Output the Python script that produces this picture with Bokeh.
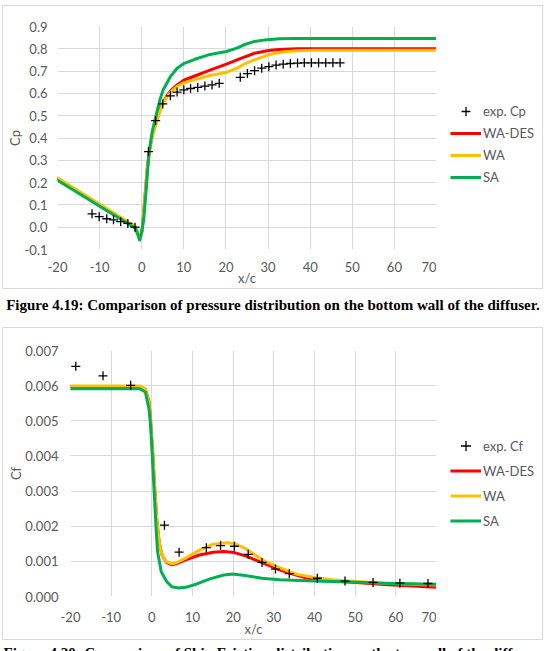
from bokeh.plotting import figure
from bokeh.models import (Range1d, FixedTicker, NumeralTickFormatter, Legend,
                          LegendItem, Div)
from bokeh.layouts import column, row
from bokeh.embed import file_html
from bokeh.resources import INLINE

# ---------------- pressure coefficient, bottom wall ----------------
cp_exp_x = [-11.8, -10.1, -8.3, -6.7, -5.0, -3.3, -1.6,
            1.6, 3.3, 5.0, 6.8, 8.4, 10.0, 11.6, 13.3, 15.0, 16.7, 18.4,
            23.4, 25.1, 26.8, 28.5, 30.2, 31.9, 33.6, 35.3, 37.0, 38.6,
            40.3, 42.0, 43.7, 45.4, 47.1]
cp_exp = [0.060, 0.047, 0.038, 0.033, 0.025, 0.017, 0.000,
          0.339, 0.478, 0.553, 0.589, 0.606, 0.616, 0.622, 0.627, 0.633, 0.638, 0.645,
          0.672, 0.689, 0.702, 0.713, 0.720, 0.727, 0.731, 0.734, 0.736, 0.737,
          0.737, 0.737, 0.737, 0.737, 0.737]

cp_wades_x = [-20, -1.5, -1.0, -0.4, 0.1, 0.7, 1.3, 1.9, 2.6, 3.5, 4.3, 5.1, 6.0,
              6.8, 8.4, 10.1, 12.6, 15.9, 20.1, 23.4, 26.8, 30.1, 32.6, 36.7, 45, 70]
cp_wades = [0.217, 0.000, -0.025, -0.052, -0.015, 0.12, 0.26, 0.35, 0.42, 0.474,
            0.525, 0.560, 0.590, 0.610, 0.638, 0.660, 0.678, 0.702, 0.731, 0.756,
            0.780, 0.792, 0.797, 0.800, 0.800, 0.800]

cp_wa_x = [-20, -1.5, -1.0, -0.4, 0.1, 0.7, 1.3, 1.9, 2.6, 3.5, 4.3, 5.1, 6.0,
           6.8, 8.4, 10.1, 12.6, 15.9, 20.1, 22.6, 24.3, 26.8, 30.1, 32.6, 36.7,
           40.9, 70]
cp_wa = [0.222, 0.003, -0.022, -0.050, -0.013, 0.12, 0.26, 0.35, 0.415, 0.470,
         0.520, 0.556, 0.585, 0.605, 0.632, 0.648, 0.662, 0.679, 0.694, 0.713,
         0.731, 0.750, 0.773, 0.783, 0.791, 0.794, 0.794]

cp_sa_x = [-20, -1.5, -1.0, -0.5, 0.0, 0.5, 1.1, 1.7, 2.5, 3.4, 4.3, 5.1, 6.8,
           8.4, 10.1, 12.6, 15.9, 20.1, 22.6, 24.3, 26.8, 29.3, 32.6, 36.7, 70]
cp_sa = [0.210, -0.005, -0.030, -0.058, -0.020, 0.040, 0.180, 0.330, 0.430,
         0.500, 0.570, 0.616, 0.675, 0.713, 0.735, 0.753, 0.773, 0.788, 0.803,
         0.818, 0.833, 0.840, 0.845, 0.846, 0.846]

cp_ticks = [-0.1, 0.0, 0.1, 0.2, 0.3, 0.4, 0.5, 0.6, 0.7, 0.8, 0.9]

# ---------------- skin friction coefficient, top wall ----------------
cf_exp_x = [-18.7, -12.0, -5.2, 3.1, 6.7, 13.4, 16.9, 20.3, 23.7, 27.1, 30.4,
            33.8, 40.7, 47.5, 54.4, 61.0, 67.9]
cf_exp = [0.00655, 0.00628, 0.00601, 0.00203, 0.00126, 0.00139, 0.00145,
          0.00143, 0.00120, 0.00097, 0.00078, 0.00065, 0.00052, 0.00044,
          0.00040, 0.00038, 0.00037]

cf_wades_x = [-20, -3.0, -1.6, -0.7, -0.3, 0.2, 0.7, 1.2, 1.8, 2.5, 3.5, 4.9,
              6.0, 8.3, 11.7, 15.1, 17.7, 20.3, 22.9, 25.4, 28.0, 31.4, 35.7,
              38.3, 40.0, 44.3, 48.6, 57.1, 70]
cf_wades = [0.00597, 0.00597, 0.00590, 0.00555, 0.00500, 0.00410, 0.00310,
            0.00220, 0.00155, 0.00118, 0.00098, 0.00090, 0.00093, 0.00104,
            0.00118, 0.00126, 0.00128, 0.00125, 0.00116, 0.00104, 0.00092,
            0.00076, 0.00060, 0.00052, 0.00049, 0.00044, 0.00041, 0.00034,
            0.00026]

cf_wa_x = [-20, -3.0, -1.6, -0.7, -0.3, 0.2, 0.7, 1.2, 1.8, 2.5, 3.5, 4.9, 6.1,
           8.3, 11.7, 15.1, 18.6, 20.3, 22.9, 25.4, 28.0, 31.4, 35.7, 40.0,
           44.3, 48.6, 57.1, 70]
cf_wa = [0.00599, 0.00599, 0.00590, 0.00550, 0.00500, 0.00410, 0.00310,
         0.00220, 0.00155, 0.00118, 0.00099, 0.00093, 0.00096, 0.00109,
         0.00132, 0.00149, 0.00153, 0.00151, 0.00137, 0.00118, 0.00099,
         0.00082, 0.00063, 0.00054, 0.00048, 0.00044, 0.00038, 0.00033]

cf_sa_x = [-20, -3.0, -1.6, -0.7, -0.3, 0.14, 0.57, 1.0, 1.4, 2.3, 3.6, 4.9,
           6.6, 8.3, 10.9, 14.3, 17.7, 19.9, 22.9, 27.1, 31.4, 40.0, 48.6,
           57.1, 70]
cf_sa = [0.00591, 0.00591, 0.00582, 0.00534, 0.00487, 0.00393, 0.00298,
         0.00203, 0.00128, 0.00071, 0.00043, 0.00028, 0.00024, 0.00026,
         0.00035, 0.00050, 0.00061, 0.00064, 0.00060, 0.00052, 0.00048,
         0.00044, 0.00041, 0.00038, 0.00035]

cf_ticks = [0.000, 0.001, 0.002, 0.003, 0.004, 0.005, 0.006, 0.007]

x_ticks = [-20, -10, 0, 10, 20, 30, 40, 50, 60, 70]

RED, YELLOW, GREEN = "#FF0000", "#FFC000", "#00B050"
GRID = "#D9D9D9"
TEXT = "#595959"
FONT = "Lato"
LINE_W = 3


def style_axis(ax):
    ax.axis_line_color = None
    ax.major_tick_line_color = None
    ax.minor_tick_line_color = None
    ax.major_tick_out = 0
    ax.major_tick_in = 0
    ax.minor_tick_out = 0
    ax.minor_tick_in = 0
    ax.major_label_text_font = FONT
    ax.major_label_text_font_size = "13px"
    ax.major_label_text_color = TEXT
    ax.axis_label_text_font = FONT
    ax.axis_label_text_font_size = "13px"
    ax.axis_label_text_font_style = "normal"
    ax.axis_label_text_color = TEXT


def chart(ex, ey, exp_label, series, yrange, yticks, yfmt, ylabel,
          left, top, bottom, legend_loc, row_h,
          x_std, x_lab_std, y_std, y_lab_std, height):
    # plot panel: the frame ends exactly at the right edge of this canvas
    p = figure(width=433, height=height, output_backend="svg",
               toolbar_location=None,
               x_range=Range1d(x_ticks[0], x_ticks[-1]),
               y_range=Range1d(*yrange),
               min_border_left=left, min_border_right=0,
               min_border_top=top, min_border_bottom=bottom)
    p.outline_line_color = None

    style_axis(p.xaxis[0])
    style_axis(p.yaxis[0])
    p.xaxis.ticker = FixedTicker(ticks=x_ticks)
    p.xaxis.formatter = NumeralTickFormatter(format="0")
    p.xaxis.axis_label = "x/c"
    p.xaxis.major_label_standoff = x_std
    p.xaxis.axis_label_standoff = x_lab_std
    p.yaxis.ticker = FixedTicker(ticks=yticks)
    p.yaxis.formatter = NumeralTickFormatter(format=yfmt)
    p.yaxis.axis_label = ylabel
    p.yaxis.major_label_standoff = y_std
    p.yaxis.axis_label_standoff = y_lab_std

    p.xgrid.ticker = FixedTicker(ticks=x_ticks)
    p.ygrid.ticker = FixedTicker(ticks=yticks)
    p.grid.grid_line_color = GRID
    p.grid.grid_line_width = 1

    for name, xs, ys, col in series:
        p.line(xs, ys, line_color=col, line_width=LINE_W,
               line_join="round", line_cap="round")
    p.scatter(ex, ey, marker="cross", size=9, line_color="black",
              line_width=1.3)

    # legend panel to the right of the plot; its key renderers carry the
    # same series but stay hidden, only their legend swatches are drawn
    lp = figure(width=106, height=height, output_backend="svg",
                toolbar_location=None, x_axis_type=None, y_axis_type=None,
                x_range=Range1d(0, 1), y_range=Range1d(0, 1),
                min_border_left=0, min_border_right=0,
                min_border_top=top, min_border_bottom=bottom)
    lp.outline_line_color = None
    lp.grid.visible = False
    key_exp = lp.scatter(ex, ey, marker="cross", size=9,
                         line_color="black", line_width=1.3, visible=False)
    items = [LegendItem(label=exp_label, renderers=[key_exp])]
    for name, xs, ys, col in series:
        key = lp.line(xs, ys, line_color=col, line_width=LINE_W,
                      visible=False)
        items.append(LegendItem(label=name, renderers=[key]))

    legend = Legend(items=items, location=legend_loc, orientation="vertical",
                    glyph_width=31, glyph_height=row_h, label_height=row_h,
                    spacing=0, padding=0, margin=0, label_standoff=2,
                    border_line_color=None, background_fill_alpha=0,
                    inactive_fill_alpha=0,
                    label_text_font=FONT, label_text_font_size="13px",
                    label_text_color=TEXT)
    lp.add_layout(legend)
    return row(p, lp, spacing=0,
               styles={"border": "1px solid #D9D9D9"})


box1 = chart(cp_exp_x, cp_exp, "exp. Cp",
             [("WA-DES", cp_wades_x, cp_wades, RED),
              ("WA", cp_wa_x, cp_wa, YELLOW),
              ("SA", cp_sa_x, cp_sa, GREEN)],
             (-0.1, 0.9), cp_ticks, "0.0", "Cp",
             54, 20, 38, (14, 61), 22, 12, -5, 10, -1, 282)
box1.margin = (5, 0, 0, 2)

box2 = chart(cf_exp_x, cf_exp, "exp. Cf",
             [("WA-DES", cf_wades_x, cf_wades, RED),
              ("WA", cf_wa_x, cf_wa, YELLOW),
              ("SA", cf_sa_x, cf_sa, GREEN)],
             (0.0, 0.007), cf_ticks, "0.000", "Cf",
             67, 22, 42, (14, 63), 25, 15, -4, 12, -2, 311)
box2.margin = (0, 0, 0, 2)

cap_style = {"font-family": "Liberation Serif", "font-weight": "bold",
             "font-size": "15px", "color": "black", "text-align": "center",
             "overflow": "hidden", "white-space": "nowrap"}

cap1 = Div(text="Figure 4.19: Comparison of pressure distribution on the bottom wall of the diffuser.",
           width=546, height=38, margin=0,
           styles=dict(cap_style, **{"line-height": "32px"}))
cap2 = Div(text="Figure 4.20: Comparison of Skin Friction distribution on the top wall of the diffuser.",
           width=546, height=11, margin=0,
           styles=dict(cap_style, **{"line-height": "26px"}))

page = column(box1, cap1, box2, cap2, spacing=0)

open("out.html", "w").write(file_html(page, INLINE))
